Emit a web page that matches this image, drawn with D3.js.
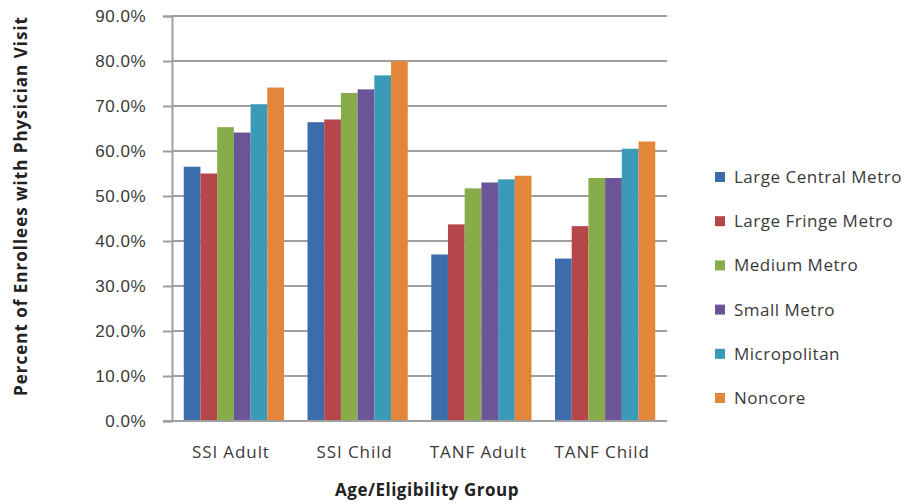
<!DOCTYPE html>
<html>
<head>
<meta charset="utf-8">
<script src="https://cdn.jsdelivr.net/npm/d3@7/dist/d3.min.js"></script>
<style>
  html, body { margin: 0; padding: 0; background: #fff; }
  svg { display: block; font-family: "Open Sans", "Liberation Sans", sans-serif; }
</style>
</head>
<body>
<svg id="chart" width="912" height="504"></svg>
<script>
// Age/eligibility groups on the x axis
const groups = ["SSI Adult", "SSI Child", "TANF Adult", "TANF Child"];

// Urbanization levels (one bar per level in each group)
const levels = ["Large Central Metro", "Large Fringe Metro", "Medium Metro",
                "Small Metro", "Micropolitan", "Noncore"];

// Percent of enrollees with a physician visit, by level, per group
const largeCentralMetro = [56.5, 66.4, 37.0, 36.1];
const largeFringeMetro  = [55.0, 67.0, 43.7, 43.3];
const mediumMetro       = [65.3, 72.9, 51.7, 54.0];
const smallMetro        = [64.1, 73.7, 53.0, 54.0];
const micropolitan      = [70.4, 76.8, 53.7, 60.5];
const noncore           = [74.1, 80.0, 54.5, 62.1];

const yTicks = [0, 10, 20, 30, 40, 50, 60, 70, 80, 90];

const seriesValues = [largeCentralMetro, largeFringeMetro, mediumMetro,
                      smallMetro, micropolitan, noncore];
const colors = ["#3d6cab", "#b5464a", "#89ac4b", "#6b5598", "#3a9ab8", "#e3863a"];

const svg = d3.select("#chart");
const margin = { left: 172, right: 245, top: 16, bottom: 83 };
const W = 912, H = 504;
const x0 = margin.left, x1 = W - margin.right;
const yTop = margin.top, yBot = H - margin.bottom;

const x = d3.scaleBand().domain(groups).range([x0, x1])
  .paddingInner(0.19).paddingOuter(0.095);
const xs = d3.scaleBand().domain(levels).range([0, x.bandwidth()]);
const y = d3.scaleLinear().domain([0, 90]).range([yBot, yTop]);

const gridColor = "#9f9f9f";
const labelColor = "#3a3a3a";

// horizontal gridlines
svg.append("g").selectAll("line").data(yTicks.filter(t => t > 0)).join("line")
  .attr("x1", x0).attr("x2", x1)
  .attr("y1", d => y(d)).attr("y2", d => y(d))
  .attr("stroke", gridColor).attr("stroke-width", 2);

// y axis
const yAxis = svg.append("g").attr("transform", `translate(${x0},0)`)
  .call(d3.axisLeft(y).tickValues(yTicks).tickSize(9).tickPadding(17)
    .tickFormat(d => d3.format(".1f")(d) + "%"));
yAxis.select(".domain").attr("stroke", gridColor).attr("stroke-width", 2);
yAxis.selectAll(".tick line").attr("stroke", gridColor).attr("stroke-width", 2);
yAxis.selectAll(".tick text").attr("fill", labelColor)
  .style("font-size", "17px").style("letter-spacing", "0.5px");

// bars
const gBars = svg.append("g");
groups.forEach((grp, gi) => {
  gBars.append("g").attr("transform", `translate(${x(grp)},0)`)
    .selectAll("rect").data(levels.map((lv, li) => ({ lv, li, v: seriesValues[li][gi] })))
    .join("rect")
    .attr("x", d => xs(d.lv))
    .attr("width", xs.bandwidth())
    .attr("y", d => y(d.v))
    .attr("height", d => y(0) - y(d.v))
    .attr("fill", d => colors[d.li]);
});

// x axis baseline
svg.append("line").attr("x1", x0 - 9).attr("x2", x1)
  .attr("y1", y(0)).attr("y2", y(0))
  .attr("stroke", gridColor).attr("stroke-width", 2);

// x category labels
svg.append("g").selectAll("text").data(groups).join("text")
  .attr("x", d => x(d) + x.bandwidth() / 2 - 3)
  .attr("y", 458)
  .attr("text-anchor", "middle")
  .attr("fill", labelColor)
  .style("font-size", "17px").style("letter-spacing", "0.9px")
  .text(d => d);

// axis titles
svg.append("text")
  .attr("x", 427).attr("y", 496)
  .attr("text-anchor", "middle")
  .attr("fill", "#222")
  .style("font-size", "17px").style("font-weight", "bold")
  .style("letter-spacing", "0.5px")
  .text("Age/Eligibility Group");

svg.append("text")
  .attr("transform", "translate(27,206) rotate(-90)")
  .attr("text-anchor", "middle")
  .attr("fill", "#222")
  .style("font-size", "17px").style("font-weight", "bold")
  .style("letter-spacing", "1px")
  .text("Percent of Enrollees with Physician Visit");

// legend
const legend = svg.append("g").attr("transform", "translate(715,177)");
const lg = legend.selectAll("g").data(levels).join("g")
  .attr("transform", (d, i) => `translate(0,${i * 44.2})`);
lg.append("rect").attr("x", 0).attr("y", -5).attr("width", 10).attr("height", 10)
  .attr("fill", (d, i) => colors[i]);
lg.append("text").attr("x", 19).attr("y", 0).attr("dy", "0.35em")
  .attr("fill", labelColor).style("font-size", "17px").style("letter-spacing", "0.5px")
  .text(d => d);
</script>
</body>
</html>
